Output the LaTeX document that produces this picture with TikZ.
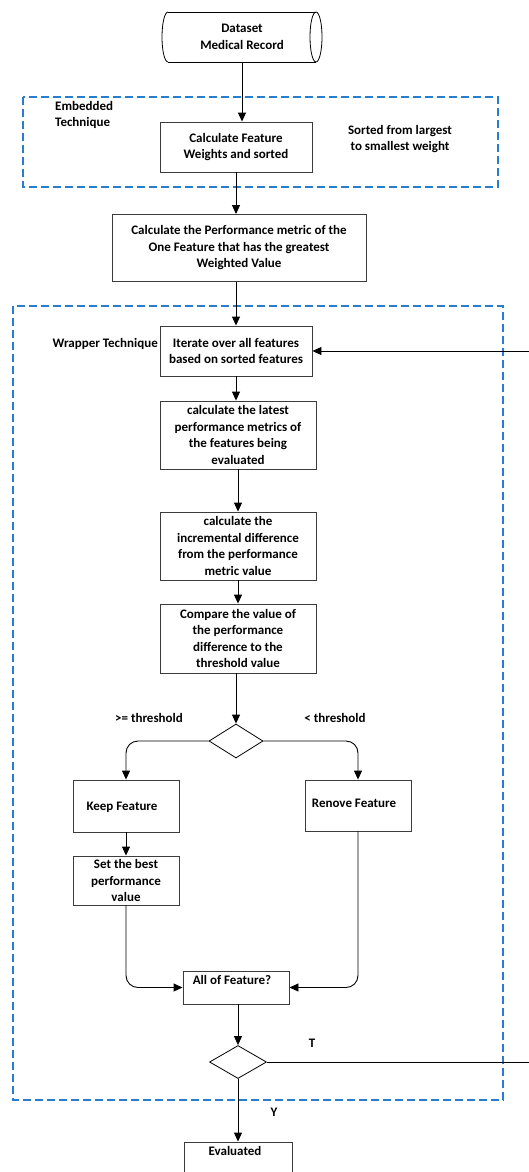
\documentclass[tikz,border=0pt]{standalone}
\usepackage{fontspec}
\setmainfont{Carlito}
\usetikzlibrary{shapes.geometric,arrows.meta,calc}
\definecolor{dashblue}{RGB}{40,125,205}
\definecolor{boxgray}{RGB}{60,60,60}
\tikzset{
  every node/.style={font=\bfseries\fontsize{13}{16.5}\selectfont},
  procbox/.style={draw=boxgray, line width=0.9pt, rectangle, align=center, inner sep=0pt},
  decision/.style={draw=black, line width=0.8pt, diamond, inner sep=0pt, minimum width=54pt, minimum height=34pt, aspect=1.6},
  arr/.style={draw=black, line width=0.9pt, -{Triangle[length=9pt,width=8pt]}},
  region/.style={draw=dashblue, line width=1.1pt, dash pattern=on 8pt off 4pt},
  lbl/.style={inner sep=0pt, align=left}
}
\begin{document}
\begin{tikzpicture}[x=1pt,y=-1pt]
\useasboundingbox[fill=white] (0,0) rectangle (528,1172);
% regions
\draw[region] (23,97) rectangle (498,187);
\draw[region] (13,306) rectangle (503,1100);
% data store (horizontal cylinder)
\draw[black, line width=0.8pt] (168,12) -- (316,12) (168,62) -- (316,62);
\draw[black, line width=0.8pt] (168,12) arc[start angle=-90, end angle=-270, x radius=6, y radius=25];
\draw[black, line width=0.8pt] (316,37) ellipse [x radius=6, y radius=25];
\node[inner sep=0pt, minimum height=50pt, minimum width=140pt, align=center] (data) at (242,37) {Dataset\\Medical Record};
% nodes
\node[procbox, minimum width=152pt, minimum height=50pt] (weights) at (236,147) {Calculate Feature\\Weights and sorted};
\node[lbl, anchor=north west] (emb) at (55,101) {Embedded\\Technique};
\node[lbl, align=center] (sorted) at (400,139) {Sorted from largest\\to smallest weight};
\node[procbox, minimum width=254pt, minimum height=67pt] (perf) at (239,248) {Calculate the Performance metric of the\\One Feature that has the greatest\\Weighted Value};
\node[procbox, minimum width=152pt, minimum height=50pt] (iter) at (236,351) {Iterate over all features\\based on sorted features};
\node[lbl, anchor=east] (wrap) at (158,344) {Wrapper Technique};
\node[procbox, minimum width=156pt, minimum height=68pt] (latest) at (238,435) {calculate the latest\\performance metrics of\\the features being\\evaluated};
\node[procbox, minimum width=156pt, minimum height=68pt] (incr) at (238,546) {calculate the\\incremental difference\\from the performance\\metric value};
\node[procbox, minimum width=156pt, minimum height=69pt] (comp) at (238,638.5) {Compare the value of\\the performance\\difference to the\\threshold value};
\node[decision] (d1) at (236,741) {};
\node[lbl] (ge) at (149,718) {>= threshold};
\node[lbl] (lt) at (335,718) {< threshold};
\node[procbox, minimum width=106pt, minimum height=52pt] (keep) at (126,806) {};
\node[lbl] at (122,807) {Keep Feature};
\node[procbox, minimum width=106pt, minimum height=51pt] (remove) at (358,805.5) {};
\node[lbl] at (354,803) {Renove Feature};
\node[procbox, minimum width=106pt, minimum height=49pt] (best) at (126,880.5) {Set the best\\performance\\value};
\node[procbox, minimum width=106pt, minimum height=33pt] (all) at (236,987.5) {};
\node[lbl] at (232,980) {All of Feature?};
\node[decision, minimum width=57pt, minimum height=33pt] (d2) at (238,1062) {};
\node[lbl] (t) at (312,1043) {T};
\node[lbl] (y) at (274,1112) {Y};
\node[procbox, minimum width=108pt, minimum height=60pt] (eval) at (238,1172) {};
\node[lbl] at (235,1151) {Evaluated};
\coordinate (loopA) at (531,1062);
% connectors
\draw[arr] (data.south) -- (data.south |- weights.north);
\draw[arr] (weights.south) -- (weights.south |- perf.north);
\draw[arr] (perf.south -| iter.north) -- (iter.north);
\draw[arr] (iter.south) -- (iter.south |- latest.north);
\draw[arr] (latest.south) -- (latest.south |- incr.north);
\draw[arr] (incr.south) -- (incr.south |- comp.north);
\draw[arr] (comp.south -| d1.north) -- (d1.north);
\draw[arr, rounded corners=12pt] (d1.west) -| (keep.north);
\draw[arr, rounded corners=12pt] (d1.east) -| (remove.north);
\draw[arr] (keep.south) -- (best.north);
\draw[arr, rounded corners=12pt] (best.south) |- (all.west);
\draw[arr, rounded corners=12pt] (remove.south) |- (all.east);
\draw[arr] (all.south -| d2.north) -- (d2.north);
\draw[arr] (d2.south) -- (d2.south |- eval.north);
\draw[arr] (d2.east) -- (loopA) |- (iter.east);
\end{tikzpicture}
\end{document}
